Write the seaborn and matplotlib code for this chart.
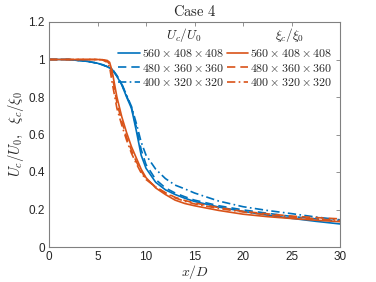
import numpy as np
import pandas as pd
import matplotlib
matplotlib.use("Agg")
import matplotlib.pyplot as plt
import seaborn as sns
from matplotlib.lines import Line2D

sns.set_theme(style="white")
plt.rcParams['font.family'] = ['Liberation Sans', 'DejaVu Sans']
plt.rcParams['mathtext.fontset'] = 'cm'

# ---- data ----
x = [0, 2, 4, 5, 5.5, 6, 6.25, 6.5, 7, 7.5, 8, 8.5, 9, 9.5, 10, 11, 12, 13, 14, 15,
     17.5, 20, 22.5, 25, 27.5, 30]

u_560 = [1.0, 1.0, 0.99, 0.98, 0.972, 0.962, 0.955, 0.948, 0.91, 0.865, 0.80, 0.74,
         0.62, 0.49, 0.42, 0.345, 0.305, 0.28, 0.26, 0.243, 0.213, 0.19, 0.17, 0.153,
         0.137, 0.123]
u_480 = [1.0, 1.0, 0.99, 0.98, 0.972, 0.962, 0.956, 0.949, 0.912, 0.868, 0.805, 0.745,
         0.64, 0.52, 0.44, 0.36, 0.315, 0.288, 0.268, 0.25, 0.22, 0.198, 0.18, 0.163,
         0.15, 0.138]
u_400 = [1.0, 1.0, 0.99, 0.98, 0.972, 0.962, 0.956, 0.95, 0.915, 0.87, 0.81, 0.75,
         0.66, 0.56, 0.49, 0.415, 0.365, 0.33, 0.31, 0.288, 0.245, 0.215, 0.195, 0.178,
         0.16, 0.145]
xi_560 = [1.0, 1.0, 1.0, 1.0, 0.999, 0.995, 0.985, 0.94, 0.80, 0.695, 0.61, 0.535,
          0.475, 0.415, 0.37, 0.315, 0.28, 0.25, 0.232, 0.22, 0.195, 0.175, 0.162,
          0.152, 0.143, 0.135]
xi_480 = [1.0, 1.0, 1.0, 1.0, 0.999, 0.99, 0.975, 0.92, 0.77, 0.67, 0.585, 0.515,
          0.455, 0.405, 0.365, 0.32, 0.29, 0.265, 0.248, 0.235, 0.21, 0.19, 0.177,
          0.165, 0.157, 0.15]
xi_400 = [1.0, 1.0, 1.0, 1.0, 0.998, 0.985, 0.96, 0.88, 0.74, 0.65, 0.57, 0.5,
          0.445, 0.395, 0.36, 0.32, 0.288, 0.262, 0.244, 0.23, 0.205, 0.187, 0.172,
          0.16, 0.15, 0.142]

grids = [r'$560\times408\times408$', r'$480\times360\times360$', r'$400\times320\times320$']
xticks = [0, 5, 10, 15, 20, 25, 30]
yticks = [0, 0.2, 0.4, 0.6, 0.8, 1.0, 1.2]
ytick_labels = ['0', '0.2', '0.4', '0.6', '0.8', '1', '1.2']

blue = '#0072BD'
orange = '#D95319'
styles = ['-', (0, (5, 3)), (0, (5, 2, 1, 2))]

fig = plt.figure(figsize=(3.76, 2.82), dpi=100)
ax = fig.add_axes([49/376, 35/282, 291/376, 225/282])

u_series = [u_560, u_480, u_400]
xi_series = [xi_560, xi_480, xi_400]
hu, hx = [], []
for ys, ls, lab in zip(u_series, styles, grids):
    sns.lineplot(x=x, y=ys, ax=ax, color=blue, linewidth=1.2, linestyle=ls)
    hu.append(Line2D([], [], color=blue, lw=1.2, ls=ls, label=lab))
for ys, ls, lab in zip(xi_series, styles, grids):
    sns.lineplot(x=x, y=ys, ax=ax, color=orange, linewidth=1.2, linestyle=ls)
    hx.append(Line2D([], [], color=orange, lw=1.2, ls=ls, label=lab))

ax.set_xlim(0, 30)
ax.set_ylim(0, 1.2)
ax.set_xticks(xticks)
ax.set_yticks(yticks)
ax.set_yticklabels(ytick_labels)
ax.tick_params(direction='in', length=3, width=0.6, top=True, right=True,
               labelsize=8.5, colors='#808080', labelcolor='#262626', pad=3)
for s in ax.spines.values():
    s.set_color('#808080')
    s.set_linewidth(0.8)

ax.set_xlabel(r'$x/D$', fontsize=10, labelpad=0)
ax.set_ylabel(r'$U_c/U_0,\ \ \xi_c/\xi_0$', fontsize=10.5, labelpad=2)
ax.set_title(r'$\mathrm{Case\ 4}$', fontsize=10.5, pad=4)

leg = ax.legend(handles=hu + hx, ncol=2, frameon=False, fontsize=8.6,
                loc='upper left', bbox_to_anchor=(0.222, 0.905),
                handlelength=1.8, handletextpad=0.15, columnspacing=0.25,
                labelspacing=0.2, borderaxespad=0)
ax.text(0.464, 0.942, r'$U_c/U_0$', transform=ax.transAxes, fontsize=9.5,
        ha='center', va='center')
ax.text(0.828, 0.942, r'$\xi_c/\xi_0$', transform=ax.transAxes, fontsize=9.5,
        ha='center', va='center')

fig.savefig('out.png', dpi=100)
